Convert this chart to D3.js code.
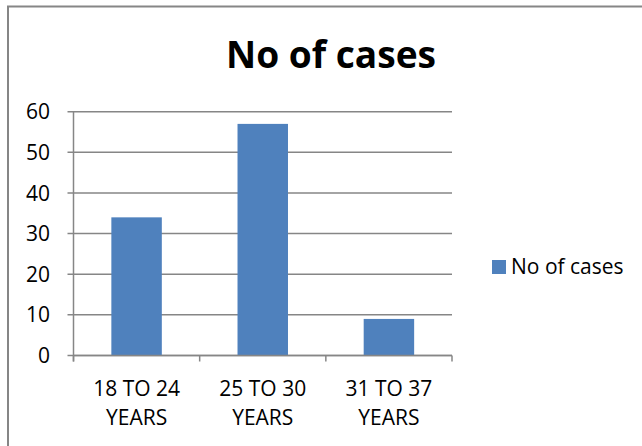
<!DOCTYPE html>
<html>
<head>
<meta charset="utf-8">
<script src="https://cdn.jsdelivr.net/npm/d3@7"></script>
<style>
  body { margin: 0; background: #fff; }
  text { font-family: "Open Sans", sans-serif; fill: #000; }
</style>
</head>
<body>
<div id="chart"></div>
<script>
// data
var categories = [["18 TO 24", "YEARS"], ["25 TO 30", "YEARS"], ["31 TO 37", "YEARS"]];
var cases = [34, 57, 9];
var yTicks = [0, 10, 20, 30, 40, 50, 60];
var seriesName = "No of cases";

var W = 642, H = 446;
var plot = {left: 73.5, right: 452, top: 111.7, bottom: 355.5};
var labelSize = "21px";

var svg = d3.select("#chart").append("svg")
    .attr("width", W)
    .attr("height", H);

// outer chart border (only top and left are in view)
svg.append("path")
    .attr("d", "M8,446 V6.5 H642")
    .attr("fill", "none")
    .attr("stroke", "#868686")
    .attr("stroke-width", 2);

var x = d3.scaleBand()
    .domain(d3.range(cases.length))
    .range([plot.left, plot.right])
    .paddingInner(0.6)
    .paddingOuter(0.3);

var xTick = d3.scaleBand()
    .domain(d3.range(cases.length))
    .range([plot.left, plot.right]);

var y = d3.scaleLinear()
    .domain([0, 60])
    .range([plot.bottom, plot.top]);

// gridlines
svg.append("g")
    .selectAll("line")
    .data(yTicks)
    .enter()
    .append("line")
    .attr("x1", plot.left - 6)
    .attr("x2", plot.right)
    .attr("y1", function(d) { return y(d); })
    .attr("y2", function(d) { return y(d); })
    .attr("stroke", "#868686")
    .attr("stroke-width", 1.5);

// y labels
svg.append("g")
    .selectAll("text")
    .data(yTicks)
    .enter()
    .append("text")
    .attr("x", 50)
    .attr("y", function(d) { return y(d); })
    .attr("dy", "0.36em")
    .attr("text-anchor", "end")
    .style("font-size", labelSize)
    .text(function(d) { return d; });

// bars
svg.append("g")
    .selectAll("rect")
    .data(cases)
    .enter()
    .append("rect")
    .attr("x", function(d, i) { return x(i); })
    .attr("width", x.bandwidth())
    .attr("y", function(d) { return y(d); })
    .attr("height", function(d) { return y(0) - y(d); })
    .attr("fill", "#4F81BD");

// y axis line
svg.append("line")
    .attr("x1", plot.left).attr("x2", plot.left)
    .attr("y1", plot.top).attr("y2", plot.bottom + 6)
    .attr("stroke", "#868686")
    .attr("stroke-width", 1.5);

// x axis line and ticks
svg.append("line")
    .attr("x1", plot.left).attr("x2", plot.right)
    .attr("y1", plot.bottom).attr("y2", plot.bottom)
    .attr("stroke", "#868686")
    .attr("stroke-width", 1.5);

var tickPos = xTick.domain().map(function(i) { return xTick(i); }).concat([plot.right]);
svg.append("g")
    .selectAll("line")
    .data(tickPos)
    .enter()
    .append("line")
    .attr("x1", function(d) { return d; })
    .attr("x2", function(d) { return d; })
    .attr("y1", plot.bottom)
    .attr("y2", plot.bottom + 6)
    .attr("stroke", "#868686")
    .attr("stroke-width", 1.5);

// category labels, two lines each
var catLabels = svg.append("g")
    .selectAll("text")
    .data(categories)
    .enter()
    .append("text")
    .attr("text-anchor", "middle")
    .style("font-size", labelSize);

catLabels.each(function(lines, i) {
    var t = d3.select(this);
    lines.forEach(function(line, j) {
        t.append("tspan")
            .attr("x", xTick(i) + xTick.bandwidth() / 2)
            .attr("y", 396 + j * 29)
            .text(line);
    });
});

// title
svg.append("text")
    .attr("x", 331)
    .attr("y", 67.5)
    .attr("text-anchor", "middle")
    .attr("textLength", 210)
    .attr("lengthAdjust", "spacingAndGlyphs")
    .style("font-size", "37px")
    .style("font-weight", "bold")
    .text(seriesName);

// legend
svg.append("rect")
    .attr("x", 492)
    .attr("y", 260)
    .attr("width", 14)
    .attr("height", 14)
    .attr("fill", "#4F81BD");

svg.append("text")
    .attr("x", 511)
    .attr("y", 273.5)
    .style("font-size", labelSize)
    .text(seriesName);
</script>
</body>
</html>
